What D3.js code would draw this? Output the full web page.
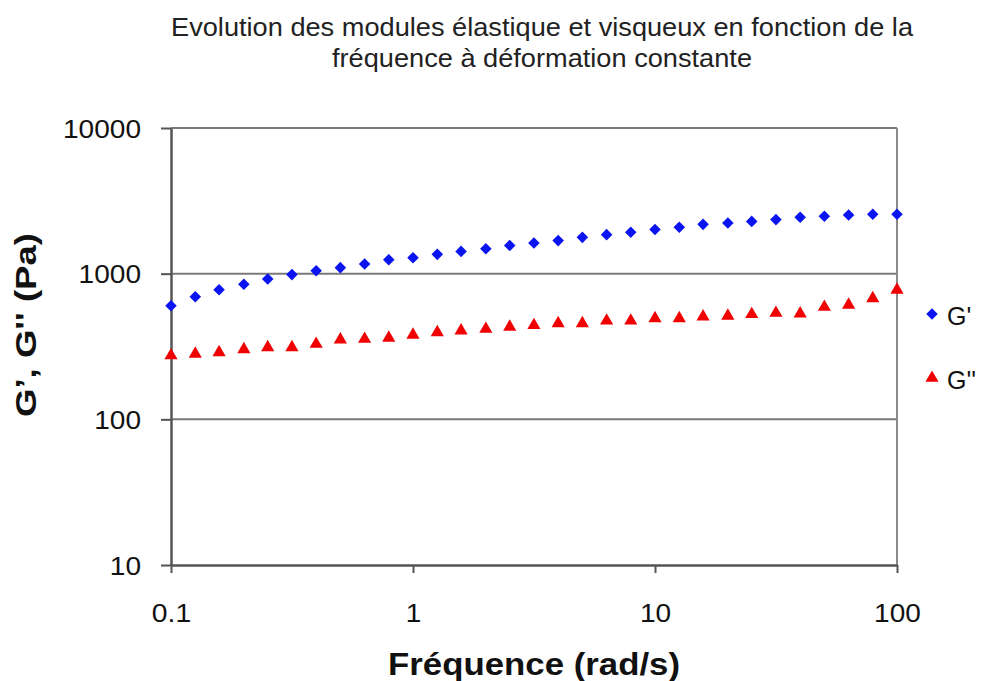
<!DOCTYPE html>
<html><head><meta charset="utf-8">
<script src="https://cdn.jsdelivr.net/npm/d3@7"></script>
<style>body{margin:0;background:#fff}svg{display:block}</style>
</head><body>
<svg id="c" width="982" height="681"></svg>
<script>
const freq = [0.1,0.126,0.158,0.2,0.251,0.316,0.398,0.501,0.631,0.794,
  1,1.26,1.58,2,2.51,3.16,3.98,5.01,6.31,7.94,
  10,12.6,15.8,20,25.1,31.6,39.8,50.1,63.1,79.4,100];
const gPrime = [603,695,776,845,920,985,1048,1100,1165,1248,
  1288,1357,1422,1485,1563,1623,1686,1775,1853,1922,
  2010,2080,2180,2230,2285,2350,2440,2475,2530,2555,2555];
const gSecond = [274,281,288,302,312,312,329,352,356,362,
  380,395,406,417,431,442,456,456,475,475,
  493,493,507,513,526,537,531,590,610,677,773];
const xTicks = [0.1,1,10,100];
const yTicks = [10,100,1000,10000];
const titleLines = ["Evolution des modules élastique et visqueux en fonction de la","fréquence à déformation constante"];

const svg = d3.select("#c");
const font = "Liberation Sans, Arial, sans-serif";
const L=171,R=897,T=128,B=565;
const x = d3.scaleLog().domain([0.1,100]).range([L,R]);
const y = d3.scaleLog().domain([10,10000]).range([B,T]);

// gridlines
svg.append("g").selectAll("line").data(yTicks.slice(1)).join("line")
  .attr("x1",L).attr("x2",R).attr("y1",d=>y(d)).attr("y2",d=>y(d))
  .attr("stroke","#7a7a7a").attr("stroke-width",2);
svg.append("line").attr("x1",R).attr("x2",R).attr("y1",T).attr("y2",B)
  .attr("stroke","#8a8a8a").attr("stroke-width",2);

// axes
const xa = svg.append("g").attr("transform",`translate(0,${B})`)
  .call(d3.axisBottom(x).tickValues(xTicks).tickFormat(d=>String(d)).tickSize(8).tickSizeOuter(0));
const ya = svg.append("g").attr("transform",`translate(${L},0)`)
  .call(d3.axisLeft(y).tickValues(yTicks).tickFormat(d=>String(d)).tickSize(10).tickSizeOuter(0));
[xa,ya].forEach(a=>{
  a.select(".domain").attr("stroke","#555").attr("stroke-width",2.5);
  a.selectAll(".tick line").attr("stroke","#555").attr("stroke-width",2);
  a.selectAll("text").attr("font-family",font).attr("font-size",26).attr("fill","#111")
    .attr("textLength",d=>String(d).length*15.6 - (String(d).includes(".")?7.5:0))
    .attr("lengthAdjust","spacingAndGlyphs");
});
xa.selectAll("text").attr("dy",null).attr("y",57);
ya.selectAll("text").attr("dy",null).attr("x",-30).attr("y",9);

// markers
const diamond = d3.symbol().type(d3.symbolDiamond2 || d3.symbolDiamond).size(85);
const tri = d3.symbol().type(d3.symbolTriangle).size(75);
svg.append("g").selectAll("path").data(freq).join("path")
  .attr("d",diamond).attr("transform",(d,i)=>`translate(${x(d)},${y(gPrime[i])})`)
  .attr("fill","#0a14f0");
svg.append("g").selectAll("path").data(freq).join("path")
  .attr("d",tri).attr("transform",(d,i)=>`translate(${x(d)},${y(gSecond[i])})`)
  .attr("fill","#f00000");

// title
const tLens=[742,420];
svg.append("g").selectAll("text").data(titleLines).join("text")
  .attr("x",542).attr("y",(d,i)=>36+i*31).attr("text-anchor","middle")
  .attr("font-family",font).attr("font-size",25).attr("fill","#222")
  .attr("textLength",(d,i)=>tLens[i]).attr("lengthAdjust","spacingAndGlyphs").text(d=>d);

// axis titles
svg.append("text").attr("x",534).attr("y",675).attr("text-anchor","middle")
  .attr("font-family",font).attr("font-size",31).attr("font-weight","bold").attr("fill","#111")
  .attr("textLength",292).attr("lengthAdjust","spacingAndGlyphs")
  .text("Fréquence (rad/s)");
svg.append("text").attr("transform","translate(36,325) rotate(-90)").attr("text-anchor","middle")
  .attr("font-family",font).attr("font-size",30).attr("font-weight","bold").attr("fill","#111")
  .attr("textLength",184).attr("lengthAdjust","spacingAndGlyphs")
  .text("G’, G'' (Pa)");

// legend
const leg = [{sym:diamond,c:"#0a14f0",t:"G'",y:314},{sym:tri,c:"#f00000",t:"G''",y:378}];
const lg = svg.append("g");
lg.selectAll("path").data(leg).join("path").attr("d",d=>d.sym())
  .attr("transform",d=>`translate(932,${d.y})`).attr("fill",d=>d.c);
lg.selectAll("text").data(leg).join("text").attr("x",947).attr("y",d=>d.y+11)
  .attr("font-family",font).attr("font-size",25).attr("fill","#111").text(d=>d.t);
</script>
</body></html>
